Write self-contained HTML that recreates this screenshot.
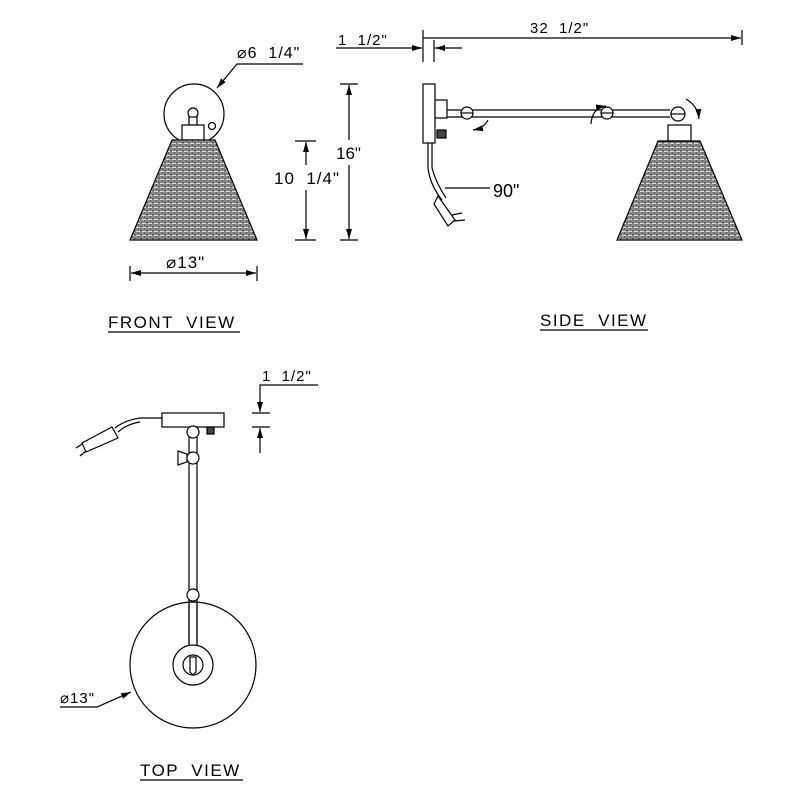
<!DOCTYPE html>
<html><head><meta charset="utf-8"><style>html,body{margin:0;padding:0;background:#fff}svg{display:block}text{font-family:"Liberation Sans",sans-serif;fill:#000;white-space:pre}</style></head>
<body>
<svg width="800" height="800" viewBox="0 0 800 800" xmlns="http://www.w3.org/2000/svg">
<defs>
<pattern id="brick" width="6" height="4" patternUnits="userSpaceOnUse">
<rect width="6" height="4" fill="#ddd"/>
<path d="M0 0H6M0 2H6M0 0V2M3 2V4" stroke="#333" stroke-width="1" fill="none"/>
</pattern>
<marker id="ar" markerWidth="10" markerHeight="6" refX="10" refY="3" orient="auto" markerUnits="userSpaceOnUse"><path d="M0 0L10 3L0 6Z" fill="#000"/></marker>
</defs>
<g stroke="#000" stroke-width="1.2" fill="none">
<circle cx="194" cy="114" r="30" fill="#fff"/>
<circle cx="193" cy="113" r="5" fill="#fff"/>
<rect x="189" y="117" width="8" height="8" fill="#fff"/>
<rect x="182" y="125" width="22" height="15" fill="#fff"/>
<circle cx="212" cy="126" r="3.5"/>
<path d="M172 140H215L257 240H130Z" fill="url(#brick)"/>
<path d="M303 64H237L217 88" marker-end="url(#ar)"/>
<path d="M295 141H316M295 240H316M340 84H358M340 240H358"/>
<path d="M306 165V142" marker-end="url(#ar)"/><path d="M306 190V239" marker-end="url(#ar)"/>
<path d="M349 140V85" marker-end="url(#ar)"/><path d="M349 165V239" marker-end="url(#ar)"/>
<path d="M130 266V281M257 266V281"/>
<path d="M193 273H131" marker-end="url(#ar)"/><path d="M193 273H256" marker-end="url(#ar)"/>
<path d="M108 332H240M540 330H648M140 780H243"/>
<path d="M423 30V62M434 40V62M742 30V45"/>
<path d="M336 48H422" marker-end="url(#ar)"/><path d="M462 48H435" marker-end="url(#ar)"/>
<path d="M423 38H741" marker-end="url(#ar)"/>
<rect x="423" y="84" width="12" height="59" fill="#fff"/>
<rect x="435" y="100" width="12" height="18" fill="#fff"/>
<rect x="437" y="130" width="9" height="8" fill="#444"/>
<path d="M447 110H670M447 117H670"/>
<circle cx="467" cy="113" r="6" fill="#fff"/><path d="M461 113H473"/>
<circle cx="607" cy="113" r="6" fill="#fff"/><path d="M601 113H613"/>
<circle cx="678" cy="114" r="7" fill="#fff"/><path d="M671 114H685"/>
<rect x="668" y="125" width="23" height="16" fill="#fff"/>
<path d="M658 141H700L742 240H617Z" fill="url(#brick)"/>
<path d="M428 143V168M432 143V168"/>
<path d="M428 168Q430 185 442 200M432 168Q436 183 446 198"/>
<path d="M438 196L455 220L448 226L434 204Z" fill="#fff"/>
<path d="M452 215L462 213M454 221L465 220"/>
<path d="M445 188H490"/>
<path d="M488 120Q484 128 473 130" marker-end="url(#ar)"/>
<path d="M591 124Q592 108 606 106" marker-end="url(#ar)"/>
<path d="M686 99Q698 106 699 119" marker-end="url(#ar)"/>
<rect x="162" y="413" width="62" height="14" fill="#fff"/>
<rect x="207" y="427" width="7" height="7" fill="#444"/>
<path d="M189 427V660M197 427V660"/>
<circle cx="193" cy="432" r="6" fill="#fff"/>
<path d="M178 451L187 454V462L178 465Z" fill="#fff"/>
<circle cx="193" cy="458" r="6" fill="#fff"/>
<circle cx="193" cy="595" r="6" fill="#fff"/>
<circle cx="193" cy="665" r="63"/>
<path d="M189 601V645M197 601V645"/>
<circle cx="193" cy="665" r="20" fill="#fff"/>
<circle cx="193" cy="665" r="10"/>
<path d="M190 657V672L193 675L196 672V657Z"/>
<path d="M162 418H140Q125 420 115 428M140 422Q127 424 118 432"/>
<path d="M112 427L82 443L86 452L118 438Z" fill="#fff"/>
<path d="M82 444L76 448M86 451L80 456"/>
<path d="M60 707H97L131 692" marker-end="url(#ar)"/>
<path d="M252 413H270M252 427H270"/>
<path d="M318 385H260V412" marker-end="url(#ar)"/>
<path d="M260 453V428" marker-end="url(#ar)"/>
</g>
<g font-size="17">
<text x="237" y="58" font-size="16" letter-spacing="1">⌀6  1/4"</text>
<text x="274" y="184" letter-spacing="1">10  1/4"</text>
<text x="336" y="159">16"</text>
<text x="166" y="268" letter-spacing="1">⌀13"</text>
<text x="108" y="328" letter-spacing="1.5">FRONT  VIEW</text>
<text x="338" y="45" font-size="15" letter-spacing="1">1  1/2"</text>
<text x="530" y="33" font-size="15" letter-spacing="1">32  1/2"</text>
<text x="493" y="197" font-size="18">90"</text>
<text x="540" y="326" letter-spacing="1.5">SIDE  VIEW</text>
<text x="262" y="381" font-size="15" letter-spacing="1">1  1/2"</text>
<text x="60" y="703" font-size="15" letter-spacing="1">⌀13"</text>
<text x="140" y="776" letter-spacing="1.5">TOP  VIEW</text>
</g>
</svg>
</body></html>
